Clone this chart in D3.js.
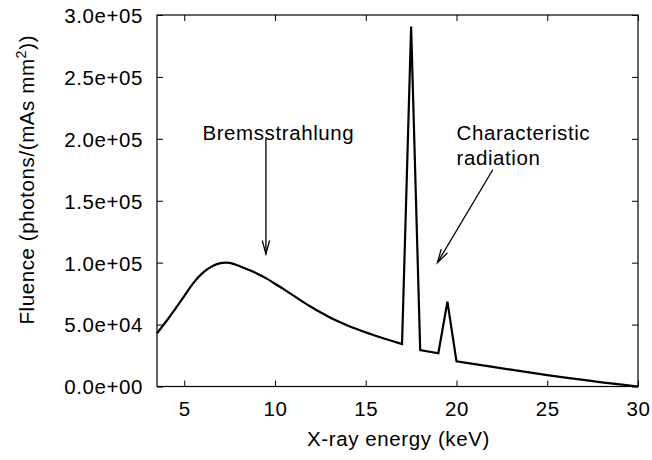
<!DOCTYPE html>
<html>
<head>
<meta charset="utf-8">
<script src="https://cdn.jsdelivr.net/npm/d3@7"></script>
<style>
  html, body { margin: 0; padding: 0; background: #fff; }
  svg text { font-family: "Liberation Sans", Arial, Helvetica, sans-serif; fill: #000; }
</style>
</head>
<body>
<svg id="chart" width="652" height="460"></svg>
<script>
// X-ray tube output spectrum: photon energy (keV) vs fluence
const energy = [3.5, 4.0, 4.5, 5.0, 5.5, 6.0, 6.5, 7.0, 7.5, 8.0, 8.5, 9.0, 9.5, 10.0,
  10.5, 11.0, 11.5, 12.0, 12.5, 13.0, 13.5, 14.0, 14.5, 15.0, 15.5, 16.0, 16.5, 17.0,
  17.5, 18.0, 19.0, 19.5, 20.0, 21.0, 22.0, 23.0, 24.0, 25.0, 26.0, 27.0, 28.0, 29.0, 30.0];
const fluence = [43000, 52500, 62500, 73000, 83500, 91500, 96800, 99600, 99800, 97500,
  94500, 91300, 87500, 83000, 78400, 73600, 68800, 64200, 59900, 56000, 52500, 49300,
  46400, 43700, 41200, 38800, 36500, 34300, 290600, 29500, 26800, 68500, 20300, 18000,
  15800, 13600, 11400, 9200, 7200, 5300, 3400, 1700, 0];
// last energy of the smooth bremsstrahlung continuum, before the K lines
const continuumEnd = 17.0;

const xTicks = [5, 10, 15, 20, 25, 30];
const yTicks = [0, 50000, 100000, 150000, 200000, 250000, 300000];
const xLabel = "X-ray energy (keV)";
const yLabel = "Fluence (photons/(mAs mm";

// annotations: text lines anchored in data space, arrows from tail to tip
const notes = [
  { lines: ["Bremsstrahlung"], x: 6.0, y: 205000 },
  { lines: ["Characteristic", "radiation"], x: 20.0, y: 205000 }
];
const arrows = [
  { x1: 9.5, y1: 200000, x2: 9.5, y2: 107000 },
  { x1: 22.0, y1: 175000, x2: 18.95, y2: 100000 }
];

const svg = d3.select("#chart");
const m = { left: 157, right: 638, top: 15, bottom: 386.5 };
const fs = 20.5, ls = "0.6px";

const x = d3.scaleLinear().domain([3.5, 30]).range([m.left, m.right]);
const y = d3.scaleLinear().domain([0, 300000]).range([m.bottom, m.top]);
const fmt = v => {
  const s = v.toExponential(1);           // e.g. "5.0e+4"
  return s.replace(/e([+-])(\d)$/, "e$10$2");
};

const tickLen = 6;
// bottom axis with labels, ticks pointing inward
const gx = svg.append("g").attr("transform", `translate(0,${m.bottom})`)
  .call(d3.axisBottom(x).tickValues(xTicks).tickSize(-tickLen).tickPadding(15).tickFormat(d3.format("d")));
// top mirror ticks
const gxt = svg.append("g").attr("transform", `translate(0,${m.top})`)
  .call(d3.axisTop(x).tickValues(xTicks).tickSize(-tickLen).tickFormat(""));
// left axis with labels
const gy = svg.append("g").attr("transform", `translate(${m.left},0)`)
  .call(d3.axisLeft(y).tickValues(yTicks).tickSize(-tickLen).tickPadding(14).tickFormat(fmt));
// right mirror ticks
const gyr = svg.append("g").attr("transform", `translate(${m.right},0)`)
  .call(d3.axisRight(y).tickValues(yTicks).tickSize(-tickLen).tickFormat(""));

[gx, gxt, gy, gyr].forEach(g => {
  g.select(".domain").remove();
  g.selectAll(".tick line").attr("stroke", "#000").attr("stroke-width", 1);
  g.selectAll("text").attr("font-size", fs).attr("letter-spacing", ls)
    .style("font-family", "'Liberation Sans', Arial, sans-serif").attr("fill", "#000");
});
gx.selectAll("text").attr("dy", "0.71em");
gy.selectAll("text").attr("dy", "0.36em");

// plot frame
svg.append("rect")
  .attr("x", m.left).attr("y", m.top)
  .attr("width", m.right - m.left).attr("height", m.bottom - m.top)
  .attr("fill", "none").attr("stroke", "#000").attr("stroke-width", 1.2);

// spectrum: smooth continuum, then straight segments through the line peaks
const pts = energy.map((e, i) => [e, fluence[i]]);
const continuum = pts.filter(d => d[0] <= continuumEnd);
const lines = pts.filter(d => d[0] >= continuumEnd);
const smooth = d3.line().x(d => x(d[0])).y(d => y(d[1])).curve(d3.curveCatmullRom);
const straight = d3.line().x(d => x(d[0])).y(d => y(d[1]));
svg.append("path")
  .attr("fill", "none").attr("stroke", "#000").attr("stroke-width", 2.2)
  .attr("stroke-linejoin", "miter")
  .attr("d", smooth(continuum) + "L" + straight(lines).slice(1));

// axis titles
svg.append("text")
  .attr("x", (m.left + m.right) / 2 + 1).attr("y", 446)
  .attr("text-anchor", "middle").attr("font-size", fs).attr("letter-spacing", ls)
  .text(xLabel);

const yt = svg.append("text")
  .attr("transform", `translate(34,${(m.top + m.bottom) / 2 - 21}) rotate(-90)`)
  .attr("text-anchor", "middle").attr("font-size", fs).attr("letter-spacing", ls);
yt.append("tspan").text(yLabel);
yt.append("tspan").attr("font-size", fs * 0.7).attr("dy", -8).text("2");
yt.append("tspan").attr("dy", 8).text("))");

// annotation labels
notes.forEach(n => {
  n.lines.forEach((t, i) => {
    svg.append("text")
      .attr("x", x(n.x)).attr("y", y(n.y) + i * 25)
      .attr("dy", "0.36em")
      .attr("font-size", fs).attr("letter-spacing", ls)
      .text(t);
  });
});

// arrows with open heads
const headLen = 14, headAng = Math.PI / 12;
arrows.forEach(a => {
  const x1 = x(a.x1), y1 = y(a.y1), x2 = x(a.x2), y2 = y(a.y2);
  svg.append("line").attr("x1", x1).attr("y1", y1).attr("x2", x2).attr("y2", y2)
    .attr("stroke", "#000").attr("stroke-width", 1.3);
  const ang = Math.atan2(y1 - y2, x1 - x2);
  const hp = [ang - headAng, ang + headAng].map(t => [x2 + headLen * Math.cos(t), y2 + headLen * Math.sin(t)]);
  svg.append("path")
    .attr("d", `M${hp[0][0]},${hp[0][1]}L${x2},${y2}L${hp[1][0]},${hp[1][1]}`)
    .attr("fill", "none").attr("stroke", "#000").attr("stroke-width", 1.3);
});
</script>
</body>
</html>
